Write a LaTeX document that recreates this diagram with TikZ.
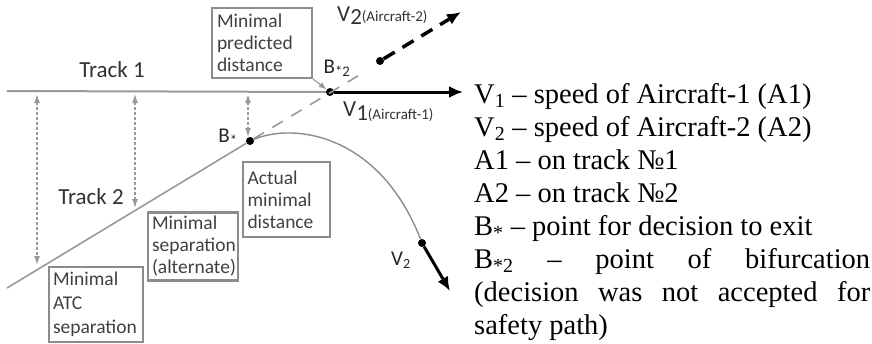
\documentclass[tikz,border=0pt]{standalone}
\usepackage{fontspec}
\setmainfont{Liberation Serif}
\newfontfamily\labfont{Carlito}
\usetikzlibrary{arrows.meta}

\begin{document}
\begin{tikzpicture}[x=1pt, y=-1pt]
  \tikzstyle{box}=[draw=black!45, line width=2.4pt, inner sep=4pt, align=left, font=\labfont\fontsize{19.5}{22}\selectfont, text=black!75]
  \tikzstyle{dot}=[circle, fill=black, inner sep=0pt, minimum size=8pt]
  \tikzstyle{track}=[black!40, line width=2pt]
  \tikzstyle{gap}=[black!40, line width=1.3pt, dash pattern=on 2.5pt off 2.5pt, {Latex[length=9pt,width=6pt]}-{Latex[length=9pt,width=6pt]}]
  \tikzstyle{speed}=[line width=3pt, -{Latex[length=14pt,width=12pt]}]
  \tikzstyle{lab}=[font=\labfont\fontsize{23}{23}\selectfont, text=black!80]
  \tikzstyle{small}=[font=\labfont\fontsize{21}{21}\selectfont, text=black!85]

  \useasboundingbox (0,0) rectangle (872,343);

  % points on the tracks
  \node[dot] (Bs) at (250,141) {};
  \node[dot] (Bs2) at (330,92) {};
  \node[dot] (A2dot) at (380,61) {};
  \node[dot] (turn) at (422,243) {};
  \coordinate (T1start) at (7,91);
  \coordinate (T2start) at (7,288);
  \coordinate (V1end) at (463,92);
  \coordinate (dashEnd) at (366,71);
  \coordinate (V2end) at (461,12);
  \coordinate (V2down) at (450,291);

  % tracks
  \draw[track] (T1start) -- (Bs2);
  \draw[track, line width=1.6pt] (T2start) -- (Bs);
  \draw[black!40, line width=1.6pt, dash pattern=on 12pt off 10pt] (Bs) -- (dashEnd);
  \draw[black!45, line width=1.4pt] (Bs) .. controls (295,122) and (380,135) .. (turn);
  \node[lab] (track1) at (112,70) {Track 1};
  \node[lab] (track2) at (91,197) {Track 2};

  % separations
  \coordinate (g1a) at (37,94);  \coordinate (g1b) at (37,265);
  \coordinate (g2a) at (135,94); \coordinate (g2b) at (135,208);
  \coordinate (g3a) at (248,94); \coordinate (g3b) at (248,137);
  \draw[gap] (g1a) -- (g1b);
  \draw[gap] (g2a) -- (g2b);
  \draw[gap] (g3a) -- (g3b);

  % speeds
  \draw[speed] (Bs2) -- (V1end);
  \draw[speed, line width=3.5pt, dash pattern=on 13pt off 9pt] (A2dot) -- (V2end);
  \draw[speed] (turn) -- (V2down);

  \node[small, anchor=base] (bslab) at (228,142) {B\textsubscript{*}};
  \node[small, anchor=base] (bs2lab) at (337,73) {B\textsubscript{*2}};
  \node[lab, anchor=base west, inner sep=0pt] (v2top) at (337,21) {V\raisebox{-3pt}{2}{\fontsize{15}{15}\selectfont(Aircraft-2)}};
  \node[lab, anchor=base west, inner sep=0pt] (v1lab) at (343,116) {V\raisebox{-4pt}{1}\raisebox{-3pt}{\fontsize{15}{15}\selectfont(Aircraft-1)}};
  \node[small, anchor=base west, inner sep=0pt] (v2lab) at (391,265) {V\raisebox{-3pt}{\fontsize{14}{14}\selectfont 2}};

  % distance boxes
  \node[box, minimum width=100pt, minimum height=70pt, text width=90pt] (mpd) at (262,43) {Minimal\\predicted\\distance};
  \node[box, minimum width=87pt, minimum height=75pt, text width=78pt] (amd) at (286.5,199.5) {Actual\\minimal\\distance};
  \node[box, minimum width=90pt, minimum height=67pt, text width=82pt] (msa) at (193,246.5) {Minimal\\separation\\(alternate)};
  \node[box, minimum width=94pt, minimum height=75pt, text width=86pt, font=\labfont\fontsize{19.5}{24}\selectfont] (mas) at (96,304.5) {Minimal\\ATC\\separation};
  \draw[black!40, line width=1.2pt, -{Latex[length=8pt,width=6pt]}] (mpd.south east) -- (Bs2);

  % legend
  \node[anchor=north west, inner sep=0pt, text width=396pt, align=justify, font=\fontsize{28.5}{33}\selectfont] (legend) at (474,83) {%
    V\textsubscript{1} -- speed of Aircraft-1 (A1)\\
    V\textsubscript{2} -- speed of Aircraft-2 (A2)\\
    A1 -- on track №1\\
    A2 -- on track №2\\
    B\textsubscript{*} -- point for decision to exit\\
    B\textsubscript{*2} -- point of bifurcation\linebreak
    (decision was not accepted for\linebreak
    safety path)};
\end{tikzpicture}
\end{document}
